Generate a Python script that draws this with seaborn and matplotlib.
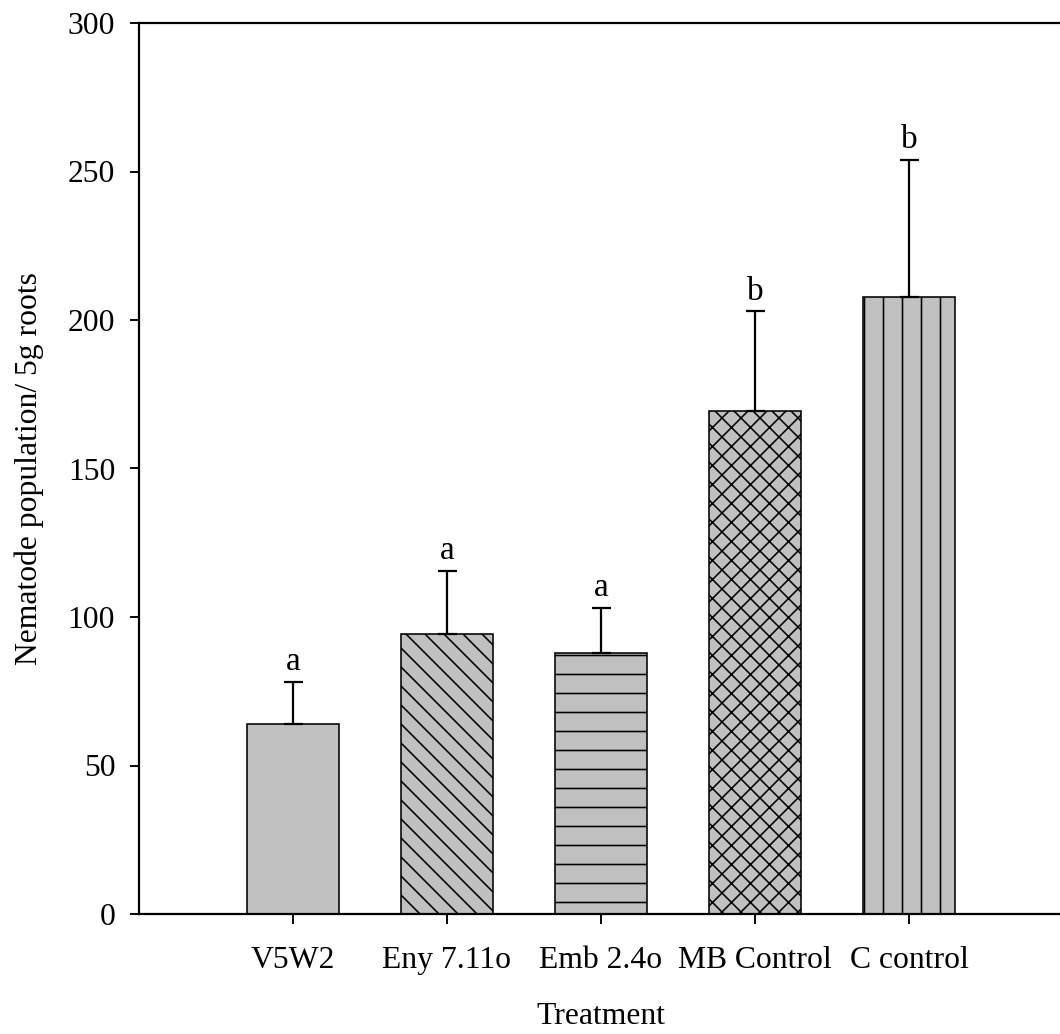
import matplotlib
matplotlib.use("Agg")
import matplotlib.pyplot as plt
import seaborn as sns
import pandas as pd
import numpy as np

treatments = ["V5W2", "Eny 7.11o", "Emb 2.4o", "MB Control", "C control"]
means = [64.0, 94.2, 87.9, 169.3, 207.8]
sem = [14.1, 21.3, 15.1, 33.6, 46.0]
letters = ["a", "a", "a", "b", "b"]
hatches = ["", "\\\\", "-", "xx", "|"]

sns.set_style("ticks")
plt.rcParams["font.family"] = ["Liberation Serif", "DejaVu Serif"]
plt.rcParams["hatch.linewidth"] = 1.0

DPI = 114
fig = plt.figure(figsize=(1060 / DPI, 1034 / DPI), dpi=DPI)
ax = fig.add_axes([139 / 1060, 120 / 1034, 924 / 1060, 891 / 1034])

df = pd.DataFrame({"Treatment": treatments, "Population": means})
sns.barplot(data=df, x="Treatment", y="Population", color="#C0C0C0",
            saturation=1, width=0.6, errorbar=None, ax=ax,
            edgecolor="black", linewidth=1.0)

for patch, h in zip(ax.patches, hatches):
    patch.set_hatch(h)
    patch.set_edgecolor("black")
    patch.set_facecolor("#C0C0C0")

x = np.arange(len(treatments))
ax.errorbar(x, means, yerr=[np.zeros(len(sem)), sem], fmt="none",
            ecolor="black", elinewidth=1.4, capsize=6, capthick=1.4, zorder=5)

for xi, m, s, lab in zip(x, means, sem, letters):
    ax.annotate(lab, (xi, m + s), xytext=(0, 3), textcoords="offset points",
                ha="center", va="bottom", fontsize=21, color="black")

ax.set_xlim(-1, 5)
ax.set_ylim(0, 300)
ax.set_yticks(range(0, 301, 50))
ax.set_xlabel("Treatment", fontsize=20, labelpad=17, color="black")
ax.set_ylabel("Nematode population/ 5g roots", fontsize=20, labelpad=15,
              color="black")
ax.tick_params(axis="both", direction="out", length=6, width=1.2,
               labelsize=20, color="black", labelcolor="black")
ax.tick_params(axis="x", pad=14)
ax.tick_params(axis="y", pad=9)

for side in ["left", "bottom", "top"]:
    ax.spines[side].set_visible(True)
    ax.spines[side].set_linewidth(1.4)
    ax.spines[side].set_color("black")
ax.spines["right"].set_visible(False)

fig.savefig("out.png", dpi=DPI, facecolor="white")
